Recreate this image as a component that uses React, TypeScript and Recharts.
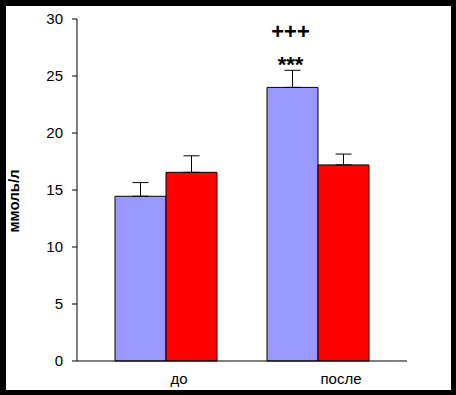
import React from 'react';
import { BarChart, Bar, XAxis, YAxis, ErrorBar, LabelList } from 'recharts';

const categories = ['до', 'после'];
const seriesBlue = [14.45, 24.0];
const seriesRed = [16.55, 17.2];
const errBlue = [1.2, 1.5];
const errRed = [1.45, 0.95];
const starMarks = ['', '***'];
const plusMarks = ['', '+++'];
const yTicks = [0, 5, 10, 15, 20, 25, 30];
const yLabel = 'ммоль/л';

const data = categories.map((name, i) => ({
  name,
  blue: seriesBlue[i],
  red: seriesRed[i],
  errBlue: [0, errBlue[i]],
  errRed: [0, errRed[i]],
}));

const FONT = '"Liberation Sans", Arial, sans-serif';
// label offsets from the group centre, as in the original layout
const TICK_SHIFT = [13, 23];

const XTick = (props: any) => {
  const { x, y, payload, index } = props;
  return (
    <text x={x + (TICK_SHIFT[index] || 0)} y={y} dy="0.71em" textAnchor="middle"
      fontFamily={FONT} fontSize={15} fill="#000">
      {payload.value}
    </text>
  );
};

const Marks = (props: any) => {
  const { x, y, width, index } = props;
  if (!starMarks[index] && !plusMarks[index]) return null;
  const cx = x + width / 2 - 2;
  return (
    <g fontFamily={FONT} fontWeight="bold" fontSize={22} fill="#000" textAnchor="middle">
      <text x={cx} y={y - 48}>{plusMarks[index]}</text>
      <text x={cx} y={y - 15}>{starMarks[index]}</text>
    </g>
  );
};

const YTitle = (props: any) => {
  const { viewBox } = props;
  const cy = viewBox.y + viewBox.height / 2 + 11;
  const bx = 13;
  return (
    <text x={bx} y={cy} transform={`rotate(-90, ${bx}, ${cy})`} textAnchor="middle"
      fontFamily={FONT} fontWeight="bold" fontSize={15} fill="#000">
      {yLabel}
    </text>
  );
};

export default function App() {
  return (
    <div style={{ position: 'fixed', left: 0, top: 0, width: 456, height: 395, background: '#000' }}>
      <div style={{ position: 'absolute', left: 6, top: 6, width: 445, height: 384, background: '#fff' }}>
        <BarChart width={445} height={384} data={data}
          margin={{ top: 13, right: 44, bottom: 0, left: 0 }}
          barCategoryGap={25} barGap={0}>
          <XAxis dataKey="name" height={29} padding={{ left: 13, right: 13 }}
            axisLine={{ stroke: '#000', strokeWidth: 1 }} tickLine={false}
            tickSize={0} tickMargin={12} tick={<XTick />} interval={0} />
          <YAxis width={71} domain={[0, 30]} ticks={yTicks} interval={0}
            axisLine={{ stroke: '#000', strokeWidth: 1 }} tickLine={{ stroke: '#000' }}
            tickSize={5} tickMargin={9}
            tick={{ fill: '#000', fontSize: 15, fontFamily: FONT }}
            label={<YTitle />} />
          <Bar dataKey="blue" fill="#9999FF" stroke="#000" strokeWidth={1} barSize={51} isAnimationActive={false}>
            <ErrorBar dataKey="errBlue" direction="y" width={8} stroke="#000" strokeWidth={1} />
            <LabelList dataKey="blue" content={<Marks />} />
          </Bar>
          <Bar dataKey="red" fill="#FF0000" stroke="#000" strokeWidth={1} barSize={51} isAnimationActive={false}>
            <ErrorBar dataKey="errRed" direction="y" width={8} stroke="#000" strokeWidth={1} />
          </Bar>
        </BarChart>
      </div>
    </div>
  );
}
